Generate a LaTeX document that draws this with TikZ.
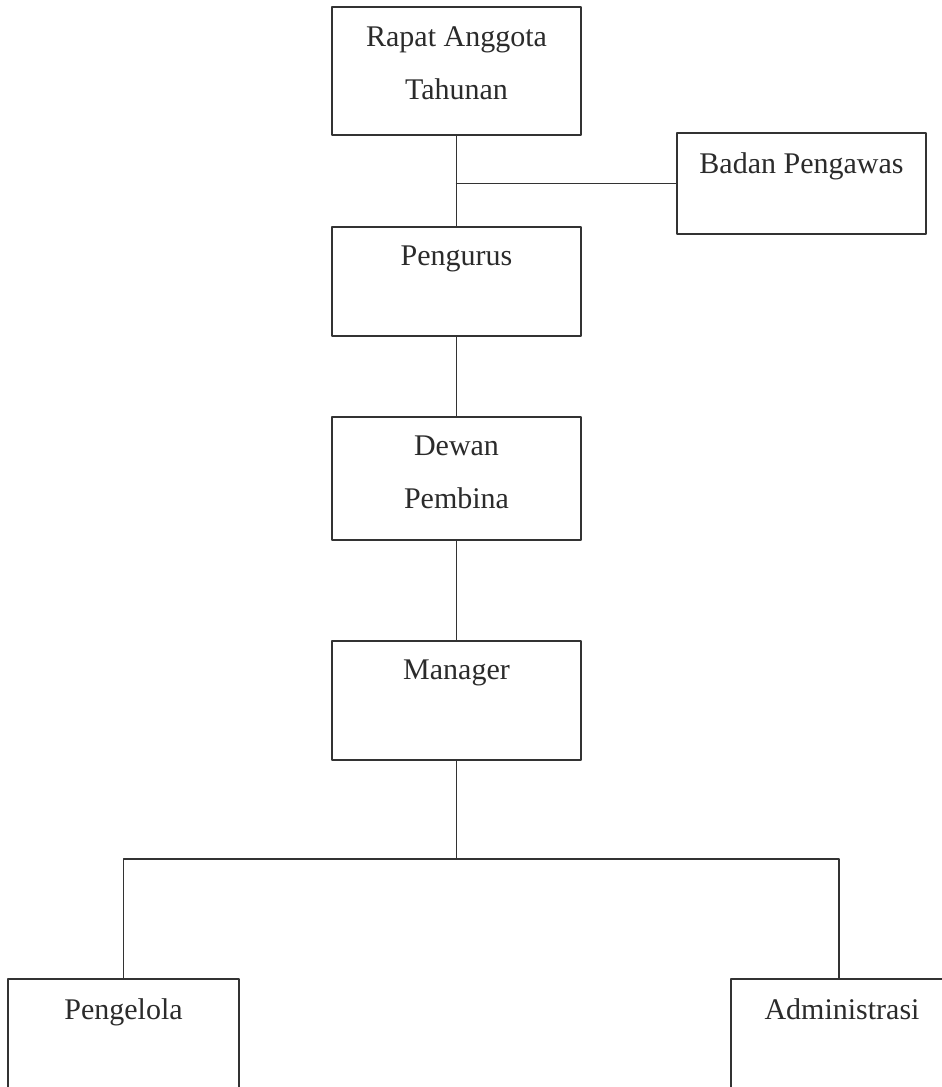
\documentclass[tikz,border=0pt]{standalone}
\usepackage{fontspec}
\setmainfont{Liberation Serif}
\usepackage{tikz}
\definecolor{inkgray}{rgb}{0.17,0.17,0.17}
\definecolor{linegray}{rgb}{0.2,0.2,0.2}
\tikzset{
  orgbox/.style={draw=linegray,line width=0.75pt,rectangle,inner sep=0pt,
    minimum width=124.5pt},
  orgtext/.style={anchor=north,inner sep=0pt,yshift=-9.8pt,align=center,
    text=inkgray,font=\fontsize{15}{26.5}\selectfont},
  link/.style={draw=linegray,line width=0.75pt}
}
\begin{document}
\begin{tikzpicture}[line cap=round,line join=round,x=0.5pt,y=-0.5pt]
	\useasboundingbox (0,0) rectangle (942,1087);
	\clip (0,0) rectangle (942,1087);
	\fill[white] (0,0) rectangle (942,1087);
	% boxes
	\node[orgbox,minimum height=64pt,label={[orgtext]north:Rapat Anggota\\Tahunan}] (rat) at (456.5,71) {};
	\node[orgbox,minimum height=50.5pt,label={[orgtext]north:Badan Pengawas}] (badan) at (801.5,183.5) {};
	\node[orgbox,minimum height=54.5pt,label={[orgtext]north:Pengurus}] (pengurus) at (456.5,281.5) {};
	\node[orgbox,minimum height=61.5pt,label={[orgtext]north:Dewan\\Pembina}] (dewan) at (456.5,478.5) {};
	\node[orgbox,minimum height=59.5pt,label={[orgtext]north:Manager}] (manager) at (456.5,700.5) {};
	\node[orgbox,minimum width=115.5pt,minimum height=80.5pt,label={[orgtext]north:Pengelola}] (pengelola) at (123.5,1059.5) {};
	\node[orgbox,minimum width=108pt,minimum height=80.5pt,label={[orgtext,xshift=1.5pt]north:Administrasi}] (admin) at (839,1059.5) {};
	\coordinate (bus) at (456.5,859);
	% lines
	\draw[link] (rat.south) -- (pengurus.north);
	\draw[link] (badan.west) -- (badan.west -| rat.south);
	\draw[link] (pengurus.south) -- (dewan.north);
	\draw[link] (dewan.south) -- (manager.north);
	\draw[link] (manager.south) -- (bus);
	\draw[link] (pengelola.north) |- (bus) -| (admin.north);
\end{tikzpicture}
\end{document}
